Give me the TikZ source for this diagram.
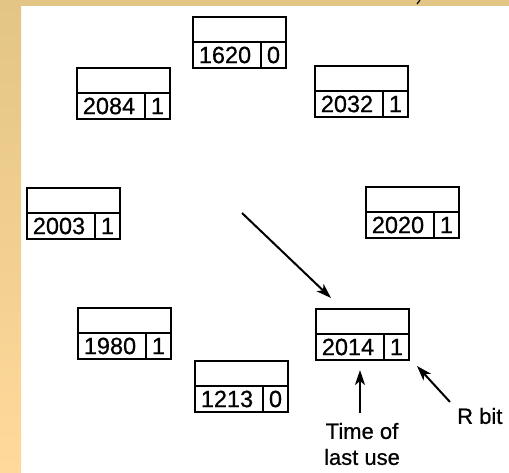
\documentclass[tikz,border=0pt]{standalone}
\usepackage{fontspec}
\setmainfont{Liberation Sans}[FakeBold=0.6]
\usetikzlibrary{arrows.meta,calc}
\definecolor{bandtop}{RGB}{227,197,133}
\definecolor{bandbot}{RGB}{255,217,155}
\newcommand\clockentry[5]{%
  \node[cellbox, minimum width=93pt, minimum height=25pt, anchor=north west] (#1t) at (#2,#3) {};
  \node[cellbox, minimum width=68pt, minimum height=26pt, anchor=north west] (#1n) at (#1t.south west) {\hspace*{-4pt}#4};
  \node[cellbox, minimum width=25pt, minimum height=26pt, anchor=north west] (#1b) at (#1n.north east) {#5};
}
\begin{document}
\begin{tikzpicture}[x=1pt,y=-1pt,
  cellbox/.style={draw=black, line width=1.6pt, inner sep=0pt, outer sep=0pt,
    font=\fontsize{23.5}{26}\selectfont},
  arrowline/.style={draw=black, line width=2pt, -{Stealth[length=15pt,width=10pt,inset=4pt]}},
  labeltext/.style={inner sep=0pt, font=\fontsize{22}{26}\selectfont}]
\useasboundingbox (0,0) rectangle (509,472);
\fill[white] (0,0) rectangle (509,472);
\fill[bandtop] (0,0) rectangle (509,6);
\shade[top color=bandtop, bottom color=bandbot] (0,0) rectangle (21,472);
\draw[line width=1.2pt] (420,0) -- (417,4);
\clockentry{a}{193}{17}{1620}{0}
\clockentry{b}{77}{68}{2084}{1}
\clockentry{c}{315}{66}{2032}{1}
\clockentry{d}{27}{188}{2003}{1}
\clockentry{e}{366}{187}{2020}{1}
\clockentry{f}{78}{308}{1980}{1}
\clockentry{g}{316}{309}{2014}{1}
\clockentry{h}{195}{361}{1213}{0}
\node[labeltext, align=center] (tlu) at (362,444) {Time of\\last use};
\node[labeltext, anchor=west] (rbit) at (457,416) {R bit};
\coordinate (hand) at (242,213);
\coordinate (uptail) at (360,413);
\coordinate (rtail) at (450,402);
\draw[arrowline] (hand) -- ([shift={(15,-11)}]gt.north west);
\draw[arrowline] (uptail) -- ([yshift=-10pt]uptail |- gn.south);
\draw[arrowline] (rtail) -- ([xshift=8pt,yshift=-6pt]gb.south east);
\end{tikzpicture}
\end{document}
